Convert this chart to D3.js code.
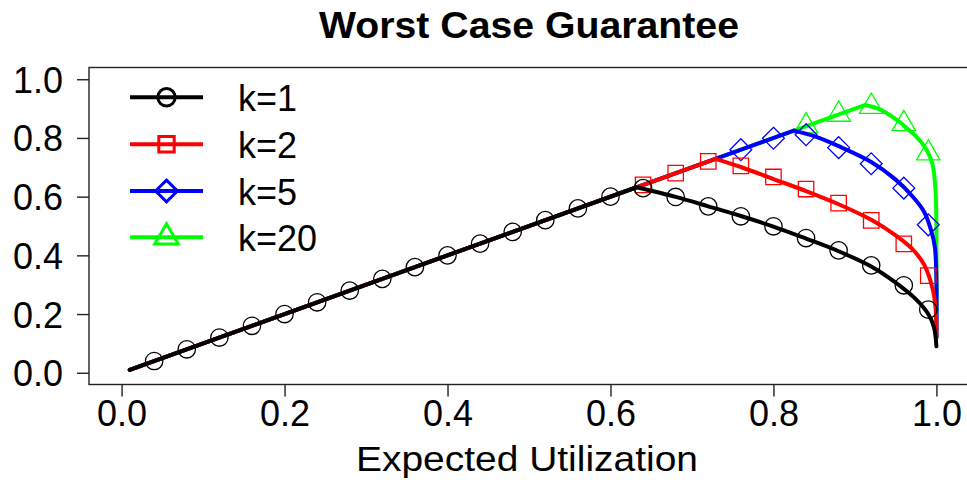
<!DOCTYPE html>
<html>
<head>
<meta charset="utf-8">
<script src="https://cdn.jsdelivr.net/npm/d3@7"></script>
<style>
  html, body { margin: 0; padding: 0; background: #fff; }
  svg { display: block; }
  text { font-family: "Liberation Sans", Arial, Helvetica, sans-serif; fill: #000; }
</style>
</head>
<body>
<svg id="chart" width="967" height="480"></svg>
<script>
// ---- data ----
const xTicks = [0.0, 0.2, 0.4, 0.6, 0.8, 1.0];
const yTicks = [0.0, 0.2, 0.4, 0.6, 0.8, 1.0];
const seriesNames = ["k=1", "k=2", "k=5", "k=20"];
const seriesColors = ["#000000", "#ff0000", "#0000ff", "#00ff00"];

// curve points [x, y]; the first two points are the straight rising part (start, peak)
const lineK1 = [[0.01,0.01],[0.632,0.632],[0.68,0.599],[0.72,0.567],[0.76,0.534],[0.80,0.498],[0.84,0.457],[0.88,0.414],[0.92,0.362],[0.95,0.307],[0.975,0.25],[0.99,0.2],[0.997,0.155],[1.0,0.09]];
const lineK2 = [[0.01,0.01],[0.729,0.729],[0.76,0.701],[0.80,0.660],[0.84,0.619],[0.88,0.574],[0.92,0.521],[0.95,0.468],[0.97,0.423],[0.985,0.368],[0.995,0.29],[0.999,0.22],[1.0,0.12]];
const lineK5 = [[0.01,0.01],[0.825,0.825],[0.85,0.806],[0.88,0.772],[0.92,0.718],[0.95,0.658],[0.97,0.603],[0.985,0.548],[0.993,0.49],[0.998,0.43],[1.0,0.32],[1.0,0.12]];
const lineK20 = [[0.01,0.01],[0.912,0.912],[0.93,0.898],[0.951,0.862],[0.965,0.83],[0.975,0.805],[0.985,0.772],[0.992,0.737],[0.996,0.70],[0.999,0.62],[1.0,0.5],[1.0,0.12]];

// marker points [x, y]
const markK1 = [[0.04,0.04],[0.08,0.08],[0.12,0.12],[0.16,0.16],[0.20,0.20],[0.24,0.24],[0.28,0.28],[0.32,0.32],[0.36,0.36],[0.40,0.40],[0.44,0.44],[0.48,0.48],[0.52,0.52],[0.56,0.56],[0.60,0.60],[0.64,0.629],[0.68,0.599],[0.72,0.567],[0.76,0.533],[0.80,0.499],[0.84,0.459],[0.88,0.417],[0.92,0.366],[0.96,0.298],[0.99,0.215]];
const markK2 = [[0.64,0.640],[0.68,0.680],[0.72,0.720],[0.76,0.705],[0.80,0.667],[0.84,0.626],[0.88,0.578],[0.92,0.519],[0.96,0.439],[0.99,0.331]];
const markK5 = [[0.76,0.760],[0.80,0.799],[0.84,0.811],[0.88,0.767],[0.92,0.712],[0.96,0.629],[0.99,0.504]];
const markK20 = [[0.84,0.840],[0.88,0.880],[0.92,0.907],[0.96,0.848],[0.99,0.748]];

const lines = [lineK1, lineK2, lineK5, lineK20];
const marks = [markK1, markK2, markK5, markK20];
const shapes = ["circle", "square", "diamond", "triangle"];

// ---- layout ----
const svg = d3.select("#chart");
const box = {left: 89, right: 969, top: 67.5, bottom: 384.5};
const x = d3.scaleLinear().domain([-0.04, 1.04]).range([box.left, box.right]);
const y = d3.scaleLinear().domain([-0.04, 1.04]).range([box.bottom, box.top]);
const R = 8.7;

function markerPath(shape, r) {
  const p = d3.path();
  if (shape === "circle") {
    p.moveTo(r, 0); p.arc(0, 0, r, 0, 2 * Math.PI); p.closePath();
  } else if (shape === "square") {
    const h = r * 0.88623;
    p.rect(-h, -h, 2 * h, 2 * h);
  } else if (shape === "diamond") {
    const h = r * 1.25331;
    p.moveTo(0, -h); p.lineTo(h, 0); p.lineTo(0, h); p.lineTo(-h, 0); p.closePath();
  } else {
    const tr = r * 1.5551, xc = r * 1.3468, yc = r * 0.7776;
    p.moveTo(0, -tr); p.lineTo(xc, yc); p.lineTo(-xc, yc); p.closePath();
  }
  return p.toString();
}

// clip to plot box
svg.append("defs").append("clipPath").attr("id", "plotclip")
  .append("rect").attr("x", box.left).attr("y", box.top)
  .attr("width", box.right - box.left).attr("height", box.bottom - box.top);

const plot = svg.append("g").attr("clip-path", "url(#plotclip)");
const straightGen = d3.line().x(d => x(d[0])).y(d => y(d[1]));
const curveGen = d3.line()
  .x(d => x(d[0]))
  .y(d => y(d[1]))
  .curve(d3.curveCatmullRom.alpha(0.5));
function seriesPath(pts) {
  return straightGen(pts.slice(0, 2)) + curveGen(pts.slice(1));
}

// draw in reverse order so k=1 ends up on top
for (let i = lines.length - 1; i >= 0; i--) {
  plot.append("path")
    .attr("d", seriesPath(lines[i]))
    .attr("fill", "none")
    .attr("stroke", seriesColors[i])
    .attr("stroke-width", 4)
    .attr("stroke-linejoin", "round")
    .attr("stroke-linecap", "round");
  plot.append("g").selectAll("path").data(marks[i]).join("path")
    .attr("transform", d => `translate(${x(d[0])},${y(d[1])})`)
    .attr("d", markerPath(shapes[i], R))
    .attr("fill", "none")
    .attr("stroke", seriesColors[i])
    .attr("stroke-width", 1.3);
}

// box
svg.append("rect")
  .attr("x", box.left).attr("y", box.top)
  .attr("width", box.right - box.left).attr("height", box.bottom - box.top)
  .attr("fill", "none").attr("stroke", "#222").attr("stroke-width", 1.4);

// axes
const fmt = d3.format(".1f");
const xAxis = svg.append("g").attr("transform", `translate(0,${box.bottom})`)
  .call(d3.axisBottom(x).tickValues(xTicks).tickFormat(fmt).tickSize(12).tickSizeOuter(0).tickPadding(4));
const yAxis = svg.append("g").attr("transform", `translate(${box.left},0)`)
  .call(d3.axisLeft(y).tickValues(yTicks).tickFormat(fmt).tickSize(12).tickSizeOuter(0).tickPadding(14));
[xAxis, yAxis].forEach(a => {
  a.select(".domain").remove();
  a.selectAll(".tick line").attr("stroke", "#222").attr("stroke-width", 1.4);
  a.selectAll(".tick text").style("font-size", "36px").attr("fill", "#000");
});
xAxis.selectAll(".tick text").attr("dy", null).attr("y", 41);
yAxis.selectAll(".tick text").attr("dy", "0.36em");

// title & axis label
svg.append("text")
  .attr("x", (box.left + box.right) / 2).attr("y", 37.5)
  .attr("text-anchor", "middle")
  .style("font-size", "36px").style("font-weight", "bold")
  .attr("textLength", 420).attr("lengthAdjust", "spacingAndGlyphs")
  .text("Worst Case Guarantee");
svg.append("text")
  .attr("x", (box.left + box.right) / 2 - 2).attr("y", 471)
  .attr("text-anchor", "middle")
  .style("font-size", "35px")
  .attr("textLength", 342).attr("lengthAdjust", "spacingAndGlyphs")
  .text("Expected Utilization");

// legend
const legY = [97.3, 144.3, 191, 237.3];
const leg = svg.append("g");
seriesNames.forEach((name, i) => {
  const g = leg.append("g").attr("transform", `translate(0,${legY[i]})`);
  g.append("line").attr("x1", 130).attr("x2", 203).attr("y1", 0).attr("y2", 0)
    .attr("stroke", seriesColors[i]).attr("stroke-width", 4);
  g.append("path").attr("transform", "translate(166.5,0)")
    .attr("d", markerPath(shapes[i], R))
    .attr("fill", "none").attr("stroke", seriesColors[i]).attr("stroke-width", 3);
  g.append("text").attr("x", 238).attr("y", 13.5)
    .style("font-size", "36px").text(name);
});
</script>
</body>
</html>
